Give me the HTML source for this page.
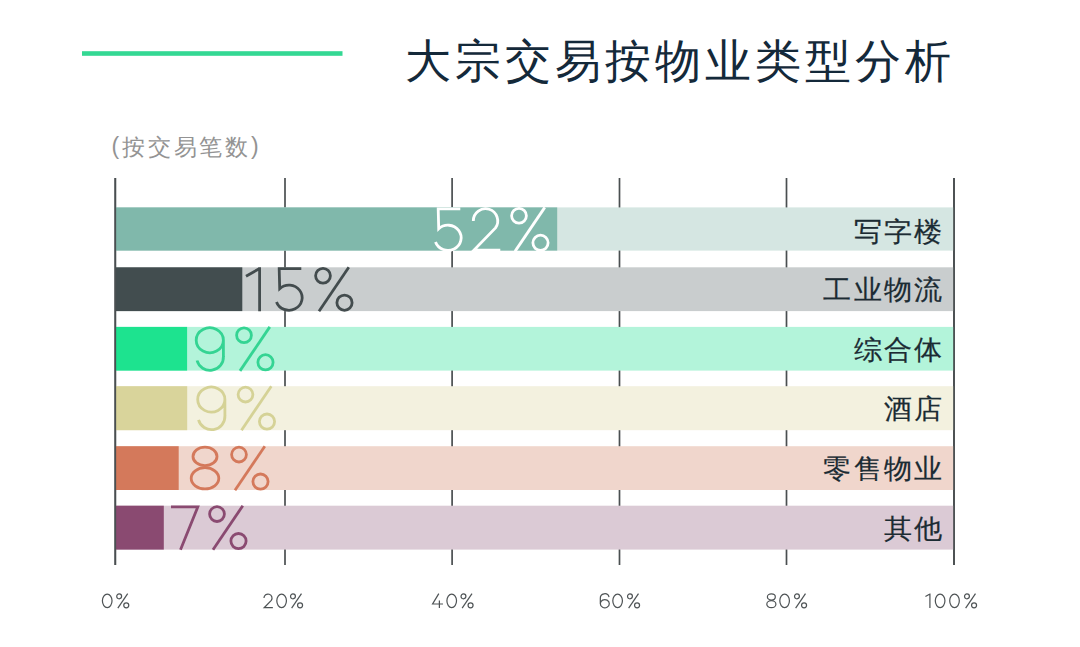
<!DOCTYPE html>
<html><head><meta charset="utf-8"><style>
html,body{margin:0;padding:0;background:#fff;width:1080px;height:647px;overflow:hidden}
body{position:relative;font-family:"Liberation Sans",sans-serif}
svg{position:absolute;left:0;top:0}
.title{position:absolute;left:404.5px;top:37.9px;font-size:46px;letter-spacing:4px;color:#14293a;white-space:nowrap;line-height:1}
.sub{position:absolute;left:111.5px;top:136px;font-size:23px;letter-spacing:2.8px;color:#939393;white-space:nowrap;line-height:1}
.lab{position:absolute;right:136.1px;height:43.5px;line-height:43.5px;margin-top:2px;font-size:27px;letter-spacing:2.1px;transform:scaleX(1.04);transform-origin:100% 50%;-webkit-text-stroke:0.2px #1b2b33;color:#1b2b33;white-space:nowrap}
</style></head><body>
<svg width="1080" height="647" viewBox="0 0 1080 647">
<rect x="82" y="51.2" width="260.5" height="4.6" fill="#34d893"/><line x1="115.3" y1="178" x2="115.3" y2="565" stroke="#4a4f51" stroke-width="1.7"/><line x1="285" y1="178" x2="285" y2="565" stroke="#4a4f51" stroke-width="1.7"/><line x1="452.1" y1="178" x2="452.1" y2="565" stroke="#4a4f51" stroke-width="1.7"/><line x1="619.5" y1="178" x2="619.5" y2="565" stroke="#4a4f51" stroke-width="1.7"/><line x1="786.5" y1="178" x2="786.5" y2="565" stroke="#4a4f51" stroke-width="1.7"/><line x1="954" y1="178" x2="954" y2="565" stroke="#4a4f51" stroke-width="1.7"/><rect x="115.2" y="207.4" width="838.8" height="43.2" fill="#d5e6e2"/><rect x="115.2" y="207.4" width="442.00000000000006" height="43.2" fill="#80b8ab"/><rect x="115.2" y="267.3" width="838.8" height="43.8" fill="#c9cdce"/><rect x="115.2" y="267.3" width="127.10000000000001" height="43.8" fill="#424d4f"/><rect x="115.2" y="326.9" width="838.8" height="43.7" fill="#b3f4da"/><rect x="115.2" y="326.9" width="71.89999999999999" height="43.7" fill="#1de38f"/><rect x="115.2" y="386.2" width="838.8" height="44.0" fill="#f3f1df"/><rect x="115.2" y="386.2" width="71.99999999999999" height="44.0" fill="#d9d49b"/><rect x="115.2" y="446.2" width="838.8" height="43.8" fill="#f0d6cc"/><rect x="115.2" y="446.2" width="63.499999999999986" height="43.8" fill="#d4795b"/><rect x="115.2" y="505.7" width="838.8" height="43.9" fill="#dbcad5"/><rect x="115.2" y="505.7" width="48.60000000000001" height="43.9" fill="#8a4a71"/><line x1="115.3" y1="178" x2="115.3" y2="565" stroke="#4a4f51" stroke-width="1.7"/><line x1="954" y1="178" x2="954" y2="565" stroke="#4a4f51" stroke-width="1.7"/><g fill="none" stroke="#ffffff" stroke-width="2.8"><g transform="translate(433 207.4) scale(1.0)"><path d="M3.8 1.4 H27.3 M5.2 1.4 L5.7 21.4 A13.2 12.6 0 1 1 2.5 34.6"/></g><g transform="translate(472.5 207.4) scale(1.0)"><path d="M0.8 13.5 A12.2 12.2 0 1 1 23 20.5 L1.5 42.75 H27.8"/></g><g transform="translate(510 207.4) scale(1.0)"><circle cx="9" cy="8.4" r="7.4"/><path d="M34.8 0 L5 44"/><circle cx="30.5" cy="35.4" r="7.6"/></g></g><g fill="none" stroke="#434c4e" stroke-width="2.8"><g transform="translate(245 267.3) scale(1.0)"><path d="M1 9 L14.6 1.2 M14.6 0 V44"/></g><g transform="translate(274 267.3) scale(1.0)"><path d="M3.8 1.4 H27.3 M5.2 1.4 L5.7 21.4 A13.2 12.6 0 1 1 2.5 34.6"/></g><g transform="translate(314 267.3) scale(1.0)"><circle cx="9" cy="8.4" r="7.4"/><path d="M34.8 0 L5 44"/><circle cx="30.5" cy="35.4" r="7.6"/></g></g><g fill="none" stroke="#34d493" stroke-width="2.8"><g transform="translate(195 326.9) scale(1.0)"><path d="M28.4 13.3 A13.6 12.5 0 1 0 28.4 13.4 M28.4 13.3 V29.5 A13.4 13.2 0 0 1 2.05 33.6"/></g><g transform="translate(235 326.9) scale(1.0)"><circle cx="9" cy="8.4" r="7.4"/><path d="M34.8 0 L5 44"/><circle cx="30.5" cy="35.4" r="7.6"/></g></g><g fill="none" stroke="#d5d296" stroke-width="2.8"><g transform="translate(196.5 386.2) scale(1.0)"><path d="M28.4 13.3 A13.6 12.5 0 1 0 28.4 13.4 M28.4 13.3 V29.5 A13.4 13.2 0 0 1 2.05 33.6"/></g><g transform="translate(236.5 386.2) scale(1.0)"><circle cx="9" cy="8.4" r="7.4"/><path d="M34.8 0 L5 44"/><circle cx="30.5" cy="35.4" r="7.6"/></g></g><g fill="none" stroke="#d4795b" stroke-width="2.8"><g transform="translate(190 446.2) scale(1.0)"><ellipse cx="15" cy="10.2" rx="12" ry="9.2"/><ellipse cx="15" cy="32.1" rx="13.8" ry="10.6"/></g><g transform="translate(230 446.2) scale(1.0)"><circle cx="9" cy="8.4" r="7.4"/><path d="M34.8 0 L5 44"/><circle cx="30.5" cy="35.4" r="7.6"/></g></g><g fill="none" stroke="#8a4a71" stroke-width="2.8"><g transform="translate(171 505.7) scale(1.0)"><path d="M0 1.25 H26.8 L9.5 44"/></g><g transform="translate(208 505.7) scale(1.0)"><circle cx="9" cy="8.4" r="7.4"/><path d="M34.8 0 L5 44"/><circle cx="30.5" cy="35.4" r="7.6"/></g></g><g fill="none" stroke="#4f5456" stroke-width="3.7"><g transform="translate(102.1 593.6) scale(0.33)"><ellipse cx="15.5" cy="22" rx="14.6" ry="20.2"/></g><g transform="translate(116.2 593.6) scale(0.33)"><circle cx="9" cy="8.4" r="7.4"/><path d="M34.8 0 L5 44"/><circle cx="30.5" cy="35.4" r="7.6"/></g></g><g fill="none" stroke="#4f5456" stroke-width="3.7"><g transform="translate(263.7 593.6) scale(0.33)"><path d="M0.8 13.5 A12.2 12.2 0 1 1 23 20.5 L1.5 42.75 H27.8"/></g><g transform="translate(276.5 593.6) scale(0.33)"><ellipse cx="15.5" cy="22" rx="14.6" ry="20.2"/></g><g transform="translate(290 593.6) scale(0.33)"><circle cx="9" cy="8.4" r="7.4"/><path d="M34.8 0 L5 44"/><circle cx="30.5" cy="35.4" r="7.6"/></g></g><g fill="none" stroke="#4f5456" stroke-width="3.7"><g transform="translate(432.3 593.6) scale(0.33)"><path d="M19.7 0 L0.9 31.5 H32.4 M21.5 20.9 V44"/></g><g transform="translate(446.6 593.6) scale(0.33)"><ellipse cx="15.5" cy="22" rx="14.6" ry="20.2"/></g><g transform="translate(460.5 593.6) scale(0.33)"><circle cx="9" cy="8.4" r="7.4"/><path d="M34.8 0 L5 44"/><circle cx="30.5" cy="35.4" r="7.6"/></g></g><g fill="none" stroke="#4f5456" stroke-width="3.7"><g transform="translate(599.8 593.6) scale(0.33)"><g transform="rotate(180 15 22)"><path d="M28.4 13.3 A13.6 12.5 0 1 0 28.4 13.4 M28.4 13.3 V29.5 A13.4 13.2 0 0 1 2.05 33.6"/></g></g><g transform="translate(612.5 593.6) scale(0.33)"><ellipse cx="15.5" cy="22" rx="14.6" ry="20.2"/></g><g transform="translate(627 593.6) scale(0.33)"><circle cx="9" cy="8.4" r="7.4"/><path d="M34.8 0 L5 44"/><circle cx="30.5" cy="35.4" r="7.6"/></g></g><g fill="none" stroke="#4f5456" stroke-width="3.7"><g transform="translate(766.4 593.6) scale(0.33)"><ellipse cx="15" cy="10.2" rx="12" ry="9.2"/><ellipse cx="15" cy="32.1" rx="13.8" ry="10.6"/></g><g transform="translate(779.5 593.6) scale(0.33)"><ellipse cx="15.5" cy="22" rx="14.6" ry="20.2"/></g><g transform="translate(794 593.6) scale(0.33)"><circle cx="9" cy="8.4" r="7.4"/><path d="M34.8 0 L5 44"/><circle cx="30.5" cy="35.4" r="7.6"/></g></g><g fill="none" stroke="#4f5456" stroke-width="3.7"><g transform="translate(925.1 593.6) scale(0.33)"><path d="M1 9 L14.6 1.2 M14.6 0 V44"/></g><g transform="translate(935 593.6) scale(0.33)"><ellipse cx="15.5" cy="22" rx="14.6" ry="20.2"/></g><g transform="translate(949.4 593.6) scale(0.33)"><ellipse cx="15.5" cy="22" rx="14.6" ry="20.2"/></g><g transform="translate(964 593.6) scale(0.33)"><circle cx="9" cy="8.4" r="7.4"/><path d="M34.8 0 L5 44"/><circle cx="30.5" cy="35.4" r="7.6"/></g></g>
</svg>
<div class="title">大宗交易按物业类型分析</div>
<div class="sub"><span style="position:relative;top:-1px">(</span>按交易笔数<span style="position:relative;top:-1px;margin-left:0px">)</span></div>
<div class="lab" style="top:209.4px">写字楼</div><div class="lab" style="top:267.3px">工业物流</div><div class="lab" style="top:326.9px">综合体</div><div class="lab" style="top:386.2px">酒店</div><div class="lab" style="top:446.2px">零售物业</div><div class="lab" style="top:505.7px">其他</div>
</body></html>
